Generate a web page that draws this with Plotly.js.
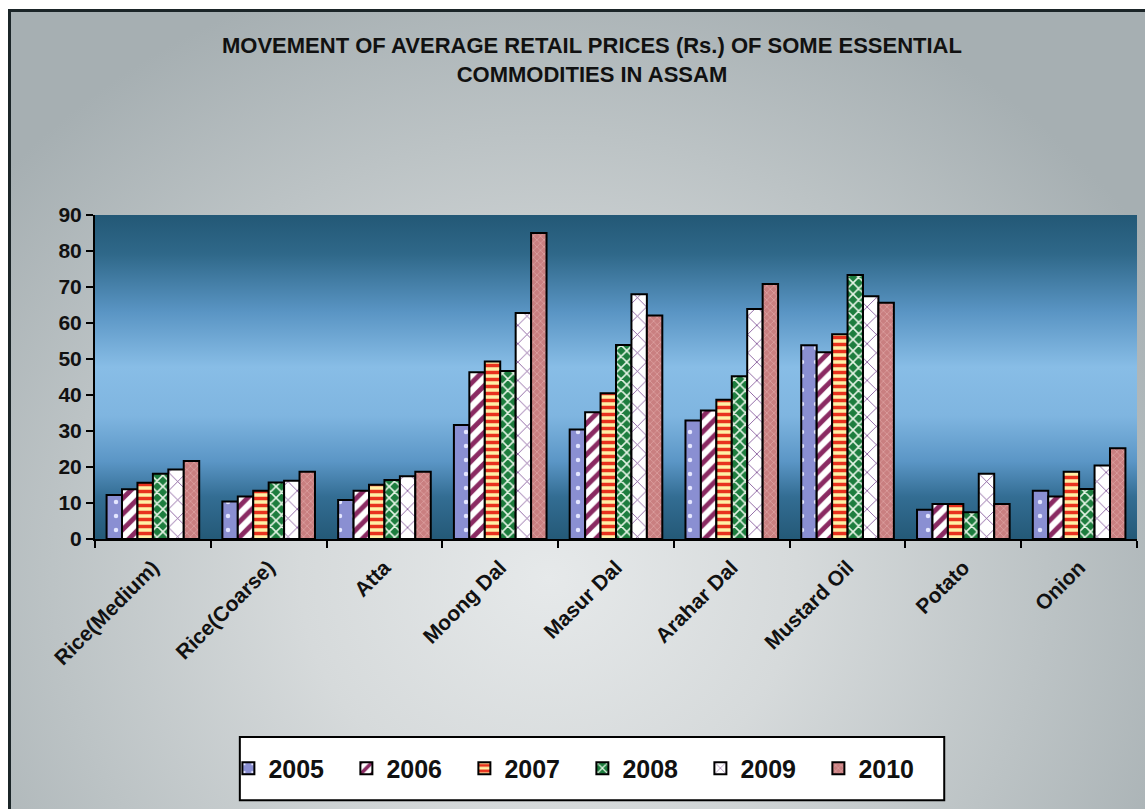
<!DOCTYPE html>
<html>
<head>
<meta charset="utf-8">
<script src="https://cdn.plot.ly/plotly-3.0.1.min.js"></script>
<style>
  html, body { margin: 0; padding: 0; background: #ffffff; }
  #wrap { position: relative; width: 1145px; height: 809px; overflow: hidden; background: #ffffff; }
  #bg { position: absolute; left: 8px; top: 9px; width: 1145px; height: 809px;
        border-left: 3px solid #1b2528; border-top: 3px solid #1b2528;
        background: radial-gradient(ellipse 62% 78% at 47% 70%, #e6e9ea 0%, #d6dadb 35%, #bcc3c5 70%, #a6afb2 100%); }
  #chart { position: absolute; left: 0; top: 0; width: 1145px; height: 809px; }
</style>
</head>
<body>
<div id="wrap"><div id="bg"></div><div id="chart"></div></div>
<script>
const categories = ["Rice(Medium)", "Rice(Coarse)", "Atta", "Moong Dal", "Masur Dal", "Arahar Dal", "Mustard Oil", "Potato", "Onion"];
const years = ["2005", "2006", "2007", "2008", "2009", "2010"];
const v2005 = [12.2, 10.4, 10.8, 31.7, 30.4, 32.9, 53.8, 8.1, 13.4];
const v2006 = [13.8, 11.8, 13.4, 46.3, 35.2, 35.7, 51.9, 9.7, 11.8];
const v2007 = [15.6, 13.4, 15.1, 49.3, 40.5, 38.7, 56.9, 9.7, 18.7];
const v2008 = [18.1, 15.7, 16.4, 46.7, 53.9, 45.2, 73.3, 7.4, 13.9];
const v2009 = [19.3, 16.2, 17.4, 62.8, 68.0, 63.9, 67.4, 18.1, 20.4];
const v2010 = [21.7, 18.7, 18.7, 85.0, 62.1, 70.8, 65.6, 9.7, 25.2];
const seriesValues = [v2005, v2006, v2007, v2008, v2009, v2010];

const styles = [
  {bg: "#8a8fd2", fg: "#e4e6ff", shape: ".", size: 14, solidity: 0.08},
  {bg: "#ffffff", fg: "#8a2a62", shape: "/", size: 11, solidity: 0.45},
  {bg: "#fff0a6", fg: "#e8321e", shape: "-", size: 7, solidity: 0.5},
  {bg: "#1d7d3e", fg: "#e6f4e6", shape: "x", size: 8, solidity: 0.35},
  {bg: "#ffffff", fg: "#7a4a92", shape: "x", size: 13, solidity: 0.12},
  {bg: "#c97f80", fg: "#dba0a0", shape: "x", size: 5, solidity: 0.3}
];

const traces = years.map((y, i) => ({
  type: "bar",
  name: y,
  x: categories,
  y: seriesValues[i],
  marker: {
    color: styles[i].bg,
    line: {color: "#000000", width: 2},
    pattern: {shape: styles[i].shape, fgcolor: styles[i].fg, bgcolor: styles[i].bg,
              size: styles[i].size, solidity: styles[i].solidity, fillmode: "replace"}
  },
  hoverinfo: "x+y+name"
}));

const svg = '<svg xmlns="http://www.w3.org/2000/svg" width="100" height="100" preserveAspectRatio="none">' +
  '<defs><linearGradient id="g" x1="0" y1="0" x2="0" y2="1">' +
  '<stop offset="0" stop-color="#235876"/>' +
  '<stop offset="0.12" stop-color="#2f6889"/>' +
  '<stop offset="0.3" stop-color="#5a95c4"/>' +
  '<stop offset="0.47" stop-color="#88bde6"/>' +
  '<stop offset="0.62" stop-color="#7fb5e0"/>' +
  '<stop offset="0.76" stop-color="#5b96c6"/>' +
  '<stop offset="0.87" stop-color="#336d93"/>' +
  '<stop offset="1" stop-color="#245977"/>' +
  '</linearGradient></defs><rect x="0" y="0" width="100" height="100" fill="url(#g)"/></svg>';
const svgUri = "data:image/svg+xml;charset=utf-8," + encodeURIComponent(svg);

const layout = {
  width: 1145, height: 809,
  margin: {l: 95, r: 8, t: 215, b: 270},
  paper_bgcolor: "rgba(0,0,0,0)",
  plot_bgcolor: "rgba(0,0,0,0)",
  font: {family: "Arial, 'Liberation Sans', sans-serif", color: "#111111"},
  title: {
    text: "MOVEMENT OF AVERAGE RETAIL PRICES (Rs.) OF SOME ESSENTIAL<br>COMMODITIES IN ASSAM",
    font: {family: "Arial, 'Liberation Sans', sans-serif", size: 22, weight: "bold", color: "#111111"},
    x: 0.517, xref: "container", xanchor: "center",
    y: 0.934, yref: "container", yanchor: "top"
  },
  barmode: "group",
  bargap: 0.2,
  bargroupgap: 0,
  xaxis: {
    type: "category",
    showline: true, linecolor: "#000000", linewidth: 2,
    ticks: "outside", tickson: "boundaries", ticklen: 7, tickwidth: 2, tickcolor: "#000000",
    tickangle: -45,
    ticklabelstandoff: 6,
    tickfont: {size: 21, weight: "bold", color: "#111111"},
    showgrid: false, zeroline: false, fixedrange: true
  },
  yaxis: {
    range: [0, 90], dtick: 10, tick0: 0,
    showline: true, linecolor: "#000000", linewidth: 2,
    ticks: "outside", ticklen: 7, tickwidth: 2, tickcolor: "#000000",
    tickfont: {size: 21, weight: "bold", color: "#111111"},
    showgrid: false, zeroline: false, fixedrange: true
  },
  images: [{
    source: svgUri, xref: "paper", yref: "paper", x: 0, y: 1, sizex: 1, sizey: 1,
    xanchor: "left", yanchor: "top", sizing: "stretch", layer: "below"
  }],
  shapes: [{
    type: "rect", xref: "paper", yref: "paper",
    x0: 0.139, x1: 0.815, y0: -0.806, y1: -0.611,
    fillcolor: "#ffffff", line: {color: "#000000", width: 2}, layer: "below"
  }],
  showlegend: true,
  legend: {
    orientation: "h",
    x: 0.128, xanchor: "left",
    y: -0.708, yanchor: "middle",
    bgcolor: "rgba(0,0,0,0)", borderwidth: 0,
    font: {size: 25, weight: "bold", color: "#111111"},
    entrywidth: 73, entrywidthmode: "pixels",
    itemwidth: 30,
    traceorder: "normal"
  }
};

Plotly.newPlot("chart", traces, layout, {displayModeBar: false});
</script>
</body>
</html>
